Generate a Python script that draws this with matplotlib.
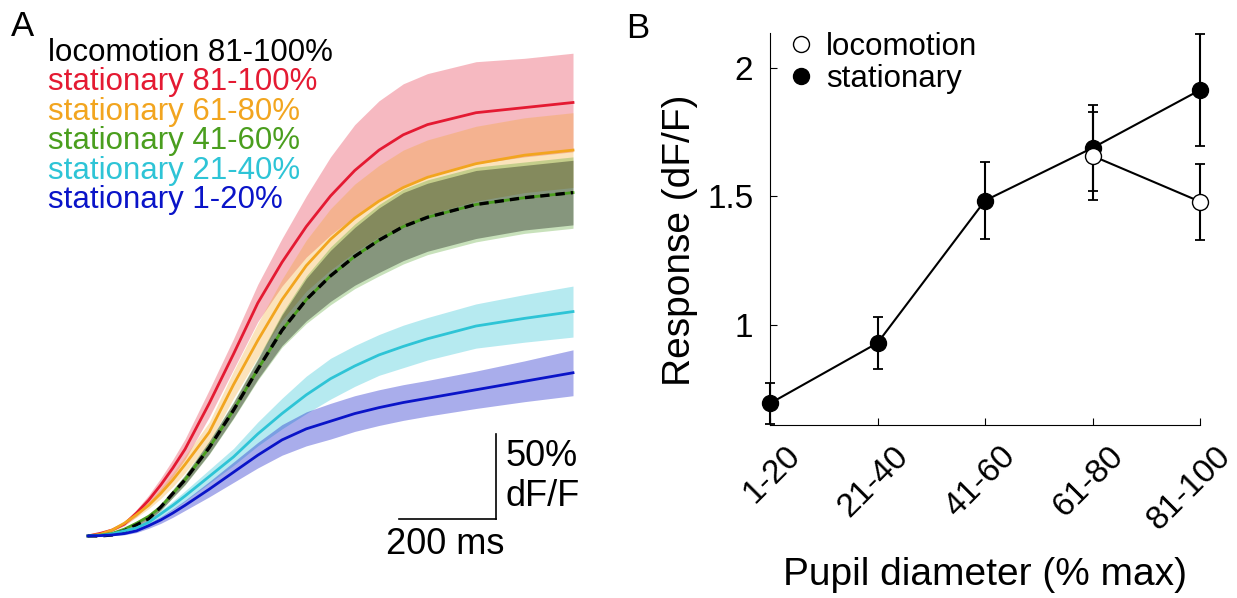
import numpy as np
import matplotlib.pyplot as plt
import matplotlib.transforms as mtransforms
from matplotlib.lines import Line2D

plt.rcParams['font.family'] = ['Liberation Sans', 'DejaVu Sans']

# ---- panel A: mean traces (dF/F) vs time (ms)
t_ms = [0, 25, 50, 75, 100, 125, 150, 175, 200, 250, 300, 350, 400, 450,
        500, 550, 600, 650, 700, 800, 900, 1000]

red_mean = [0, 0.015, 0.035, 0.07, 0.135, 0.21, 0.30, 0.40, 0.51, 0.78, 1.07, 1.37,
            1.61, 1.82, 2.00, 2.15, 2.27, 2.36, 2.42, 2.49, 2.52, 2.55]
red_sem = [0, 0.003, 0.006, 0.01, 0.02, 0.03, 0.04, 0.05, 0.06, 0.08, 0.09, 0.11,
           0.14, 0.18, 0.23, 0.27, 0.29, 0.30, 0.30, 0.30, 0.29, 0.29]

orange_mean = [0, 0.01, 0.035, 0.075, 0.125, 0.18, 0.25, 0.33, 0.42, 0.61, 0.89, 1.15,
               1.39, 1.59, 1.745, 1.87, 1.97, 2.05, 2.11, 2.19, 2.24, 2.27]
orange_sem = [0, 0.002, 0.005, 0.01, 0.015, 0.02, 0.03, 0.04, 0.05, 0.06, 0.08, 0.10,
              0.12, 0.15, 0.18, 0.20, 0.21, 0.22, 0.22, 0.22, 0.22, 0.22]

green_mean = [0, 0.005, 0.015, 0.04, 0.075, 0.115, 0.17, 0.25, 0.33, 0.52, 0.74, 0.98,
              1.21, 1.39, 1.53, 1.645, 1.74, 1.82, 1.875, 1.95, 1.99, 2.02]
green_sem = [0, 0.002, 0.004, 0.006, 0.01, 0.015, 0.02, 0.025, 0.03, 0.04, 0.05, 0.065,
             0.10, 0.14, 0.17, 0.19, 0.21, 0.22, 0.22, 0.22, 0.21, 0.21]

loc_mean = [0, 0, 0.006, 0.03, 0.065, 0.10, 0.17, 0.25, 0.33, 0.52, 0.74, 0.98,
            1.21, 1.39, 1.53, 1.645, 1.74, 1.82, 1.875, 1.95, 1.99, 2.02]
loc_sem = [0, 0.002, 0.004, 0.005, 0.009, 0.013, 0.018, 0.022, 0.027, 0.036, 0.045, 0.058,
           0.09, 0.125, 0.15, 0.17, 0.19, 0.20, 0.20, 0.20, 0.19, 0.19]

cyan_mean = [0, 0.003, 0.012, 0.03, 0.047, 0.08, 0.13, 0.18, 0.235, 0.35, 0.465, 0.60,
             0.72, 0.83, 0.925, 1.0, 1.065, 1.115, 1.16, 1.235, 1.28, 1.32]
cyan_sem = [0, 0.002, 0.004, 0.007, 0.01, 0.015, 0.02, 0.025, 0.03, 0.04, 0.05, 0.07,
            0.09, 0.11, 0.12, 0.12, 0.12, 0.125, 0.125, 0.13, 0.14, 0.15]

blue_mean = [0, 0.002, 0.006, 0.014, 0.03, 0.06, 0.094, 0.135, 0.18, 0.275, 0.375, 0.475,
             0.565, 0.63, 0.675, 0.72, 0.755, 0.785, 0.81, 0.86, 0.91, 0.96]
blue_sem = [0, 0.002, 0.004, 0.007, 0.01, 0.015, 0.02, 0.025, 0.03, 0.045, 0.06, 0.075,
            0.09, 0.10, 0.105, 0.105, 0.105, 0.105, 0.105, 0.11, 0.12, 0.135]

legend_A = ['locomotion 81-100%', 'stationary 81-100%', 'stationary 61-80%',
            'stationary 41-60%', 'stationary 21-40%', 'stationary 1-20%']

# ---- panel B: response vs pupil diameter
pupil_bins = ['1-20', '21-40', '41-60', '61-80', '81-100']
stat_resp = [0.695, 0.93, 1.484, 1.689, 1.914]
stat_err = [0.08, 0.10, 0.15, 0.167, 0.217]
loc_idx = [3, 4]
loc_resp = [1.658, 1.48]
loc_err = [0.172, 0.148]

RED = '#E41A32'
ORANGE = '#F2A51F'
GREEN = '#4A9E1E'
CYAN = '#2EC4D6'
BLUE = '#0A14C8'

fig = plt.figure(figsize=(12.37, 5.98), dpi=100)

# panel A -- axes spanning left part, no visible axes (scale bar instead)
axA = fig.add_axes([0, 0, 620 / 1237, 1])
axA.set_xlim(-181.4, 1096.9)
axA.set_ylim(-0.365, 3.153)
axA.axis('off')

t = np.array(t_ms)
bands = [(red_mean, red_sem, RED, 0.3),
         (orange_mean, orange_sem, ORANGE, 0.3),
         (green_mean, green_sem, GREEN, 0.3),
         (loc_mean, loc_sem, 'k', 0.33),
         (cyan_mean, cyan_sem, CYAN, 0.35),
         (blue_mean, blue_sem, BLUE, 0.35)]
for m, s, c, a in bands:
    m = np.array(m)
    s = np.array(s)
    axA.fill_between(t, m - s, m + s, color=c, alpha=a, lw=0)

axA.plot(t, red_mean, color=RED, lw=2)
axA.plot(t, orange_mean, color=ORANGE, lw=2)
axA.plot(t, green_mean, color=GREEN, lw=2)
axA.plot(t, loc_mean, color='k', lw=2.4, dashes=(2.8, 1.8))
axA.plot(t, cyan_mean, color=CYAN, lw=2)
axA.plot(t, blue_mean, color=BLUE, lw=2)

# scale bar: 200 ms x 50% dF/F
axA.plot([641, 841], [0.1, 0.1], color='k', lw=1.2)
axA.plot([841, 841], [0.1, 0.6], color='k', lw=1.2)
axA.text(860, 0.465, '50%', fontsize=26, ha='left', va='center')
axA.text(860, 0.23, 'dF/F', fontsize=26, ha='left', va='center')
axA.text(736, -0.053, '200 ms', fontsize=26, ha='center', va='center')

colors_A = ['k', RED, ORANGE, GREEN, CYAN, BLUE]
for i, (lab, c) in enumerate(zip(legend_A, colors_A)):
    fig.text(48 / 1237, 1 - (61 + 29.4 * i) / 598, lab, color=c,
             fontsize=22.5, ha='left', va='baseline')

fig.text(11 / 1237, 1 - 27 / 598, 'A', fontsize=25, ha='left', va='center')
fig.text(626 / 1237, 1 - 28 / 598, 'B', fontsize=25, ha='left', va='center')

# panel B
axB = fig.add_axes([770 / 1237, (598 - 425) / 598, 430 / 1237, (425 - 33) / 598])
x = np.arange(1, 6)
axB.errorbar(x, stat_resp, yerr=stat_err, color='k', lw=1.5, capsize=3.8,
             capthick=1.3, elinewidth=1.5, marker='o', ms=11.5, mfc='k', mec='k',
             clip_on=False, zorder=3)
axB.errorbar(x[loc_idx], loc_resp, yerr=loc_err, color='k', lw=1.5, capsize=3.8,
             capthick=1.3, elinewidth=1.5, marker='o', ms=11.5, mfc='white', mec='k',
             clip_on=False, zorder=4)
axB.set_xlim(1, 5)
axB.set_ylim(0.611, 2.136)
axB.set_yticks([1, 1.5, 2])
axB.set_yticklabels(['1', '1.5', '2'])
axB.set_xticks(x)
axB.set_xticklabels(pupil_bins, rotation=45, ha='right', va='top',
                    rotation_mode='anchor')
axB.tick_params(direction='in', length=5, width=0.8, labelsize=24, pad=12)
axB.tick_params(axis='x', pad=11)
shift = mtransforms.ScaledTranslation(15 / 100, 0, fig.dpi_scale_trans)
for lbl in axB.get_xticklabels():
    lbl.set_transform(lbl.get_transform() + shift)
axB.spines['top'].set_visible(False)
axB.spines['right'].set_visible(False)
axB.set_ylabel('Response (dF/F)', fontsize=28, va='center')
axB.yaxis.set_label_coords(-0.209, 0.47)
axB.set_xlabel('Pupil diameter (% max)', fontsize=28, va='center')
axB.xaxis.set_label_coords(0.5, -0.383)

handles = [Line2D([], [], ls='none', marker='o', ms=11.5, mfc='white', mec='k'),
           Line2D([], [], ls='none', marker='o', ms=11.5, mfc='k', mec='k')]
axB.legend(handles, ['locomotion', 'stationary'], loc='upper left',
           bbox_to_anchor=(0.0, 1.058), frameon=False, fontsize=22.5,
           handlelength=0.6, handletextpad=0.5, labelspacing=0.05,
           borderaxespad=0.3)

fig.savefig('out.png', dpi=100)
